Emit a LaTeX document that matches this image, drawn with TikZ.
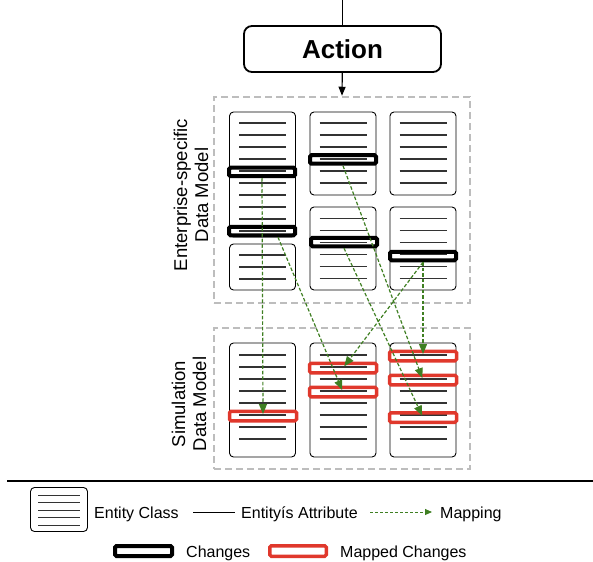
\documentclass[tikz,border=0pt]{standalone}
\usepackage{fontspec}
\setmainfont{Liberation Sans}
\usetikzlibrary{arrows.meta}

\definecolor{mapgreen}{HTML}{3F7F22}
\definecolor{chgred}{HTML}{E0382C}
\definecolor{boxgray}{HTML}{BDBDBD}
\newcommand\legendfont{\fontsize{16}{19}\selectfont}
\newcommand\modelfont{\fontsize{18.5}{21}\selectfont}

\tikzset{
	entity/.style={draw,rounded corners=4pt,line width=0.9pt,minimum width=66pt,inner sep=0pt},
	change/.style={draw,line width=4pt,rounded corners=1.5pt,minimum width=66pt,minimum height=8.5pt,inner sep=0pt},
	mapped/.style={draw=chgred,line width=3.5pt,rounded corners=1.5pt,minimum width=67pt,minimum height=9.5pt,inner sep=0pt},
	mapping/.style={mapgreen,line width=1.2pt,dash pattern=on 3.5pt off 2pt,shorten >=2pt,-{Triangle[length=10pt,width=8pt]}},
	attr/.style={line width=1.1pt,color=black!80},
	modelbox/.style={draw=boxgray,line width=2.5pt,dash pattern=on 7pt off 4pt,inner sep=0pt},
	legtext/.style={anchor=base west,inner sep=0pt,font=\legendfont},
}

\begin{document}
\begin{tikzpicture}[x=1pt,y=-1pt]
	\useasboundingbox (0,0) rectangle (593,561);
	\coordinate (top) at (342.5,0);
	\node[draw,rounded corners=8pt,line width=1.8pt,minimum width=197pt,minimum height=46pt,font=\bfseries\fontsize{26}{30}\selectfont] (action) at (342.5,49) {Action};
	\node[modelbox,minimum width=256pt,minimum height=206pt] (esdm) at (342,200) {};
	\node[modelbox,minimum width=256pt,minimum height=141pt] (simdm) at (342,398.5) {};
	\draw[line width=1.2pt] (top) -- (action);
	\draw[line width=1.2pt,-{Triangle[length=9pt,width=7pt]}] (action) -- (esdm.north);
	\node[rotate=90,align=center,font=\modelfont] (eslabel) at (191,195) {Enterprise-specific\\Data Model};
	\node[rotate=90,align=center,font=\modelfont] (simlabel) at (189,404) {Simulation\\Data Model};

	\node[entity,minimum height=125pt] (e1a) at (262.5,174.5) {};
	\node[entity,minimum height=46pt] (e1b) at (262.5,267) {};
	\node[entity,minimum height=83pt] (e2a) at (343,153.5) {};
	\node[entity,minimum height=83pt] (e2b) at (343,248.5) {};
	\node[entity,minimum height=83pt] (e3a) at (423,153.5) {};
	\node[entity,minimum height=83pt] (e3b) at (423,248.5) {};
	\node[entity,minimum height=114pt] (s1) at (262.5,400) {};
	\node[entity,minimum height=114pt] (s2) at (343,400) {};
	\node[entity,minimum height=114pt] (s3) at (423,400) {};

\foreach \y in {123,135,...,231}
	\draw[attr] (239,\y) -- (286,\y);
\foreach \y in {255,267,279}
	\draw[attr] (239,\y) -- (286,\y);
\foreach \x in {343,423} {
	\foreach \y in {123,135,...,183}
		\draw[attr] (\x-23.5,\y) -- (\x+23.5,\y);
	\foreach \y in {218.5,230.5,...,278.5}
		\draw[attr] (\x-23.5,\y) -- (\x+23.5,\y);
}
\foreach \x in {262.5,343}
	\foreach \y in {355,367,...,439}
		\draw[attr] (\x-23.5,\y) -- (\x+23.5,\y);
\foreach \y in {355,379,391,403,415,427,439}
	\draw[attr] (399.5,\y) -- (446.5,\y);

	\node[change] (c1) at (262,172) {};
	\node[change] (c2) at (262,231) {};
	\node[change] (c3) at (343,159.5) {};
	\node[change] (c4) at (344,242) {};
	\node[change] (c5) at (423,256) {};
	\node[mapped] (m1) at (263,416) {};
	\node[mapped] (m2) at (343,368) {};
	\node[mapped] (m3) at (343,392) {};
	\node[mapped] (m4) at (423,356) {};
	\node[mapped] (m5) at (423,380) {};
	\node[mapped] (m6) at (423,417.5) {};

	\draw[mapping] (c1.south) -- (m1.center);
	\draw[mapping] ([xshift=16pt]c2.south) -- (m3.center);
	\draw[mapping] (c3.south) -- (m5.center);
	\draw[mapping] (c4.south) -- (m6.center);
	\draw[mapping] (c5.south) -- (m2.center);
	\draw[mapping] (c5.south) -- (m4.center);

	\coordinate (sepl) at (7,481);
	\coordinate (sepr) at (593,481);
	\draw[line width=2pt] (sepl) -- (sepr);

	\node[entity,minimum width=57pt,minimum height=44pt] (legent) at (59,509.5) {};
\foreach \y in {495,502.5,...,525.5}
	\draw[attr,line width=0.9pt] (38,\y) -- (80,\y);
	\node[legtext] (legenttxt) at (94,518) {Entity Class};
	\coordinate (attrl) at (193,512);
	\coordinate (attrr) at (235,512);
	\draw[line width=1pt] (attrl) -- (attrr);
	\node[legtext] (legattr) at (241,518) {Entityís Attribute};
	\coordinate (mapl) at (370,512);
	\coordinate (mapr) at (432,512);
	\draw[mapping,line width=0.9pt,dash pattern=on 3pt off 2pt,shorten >=0pt,-{Triangle[length=7pt,width=6pt]}] (mapl) -- (mapr);
	\node[legtext] (legmap) at (440,518) {Mapping};
	\node[change,minimum width=57pt,minimum height=10pt] (legchg) at (143.5,551) {};
	\node[legtext] (legchgtxt) at (186,557) {Changes};
	\node[mapped,minimum width=56.5pt,minimum height=10.5pt] (legmapd) at (298,551) {};
	\node[legtext] (legmapdtxt) at (340,557) {Mapped Changes};
\end{tikzpicture}
\end{document}
